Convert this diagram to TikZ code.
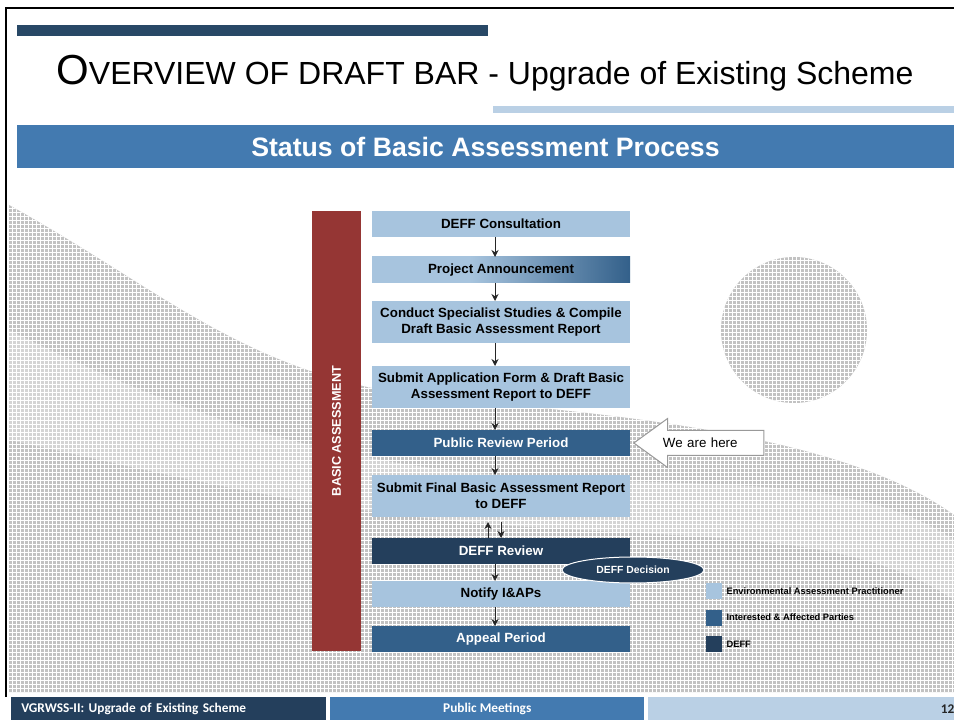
\documentclass[tikz,border=0pt]{standalone}
\usepackage{fontspec}
\setmainfont{Liberation Sans}
\newfontfamily\footfont{Carlito}
\usetikzlibrary{arrows.meta,positioning,shapes.geometric,shapes.arrows,patterns}

\definecolor{eapblue}{RGB}{167,196,222}
\definecolor{iapblue}{RGB}{51,96,138}
\definecolor{deffnavy}{RGB}{36,63,92}
\definecolor{bandblue}{RGB}{67,122,176}
\definecolor{topnavy}{RGB}{40,72,102}
\definecolor{paleblue}{RGB}{186,208,229}
\definecolor{barred}{RGB}{149,54,52}
\definecolor{texgray}{RGB}{194,194,194}

\pgfdeclarehorizontalshading{announceshade}{100bp}{color(0bp)=(eapblue); color(25bp)=(eapblue); color(44bp)=(eapblue); color(75bp)=(iapblue); color(100bp)=(iapblue)}

\begin{document}
\begin{tikzpicture}[
			x=0.75pt, y=-0.75pt,
			node distance=15pt,
			flowbox/.style={
				rectangle,
				minimum width=193.5pt,
				minimum height=19.5pt,
				inner sep=2pt,
				outer sep=0pt,
				align=center,
				font=\bfseries\fontsize{10}{12}\selectfont
			},
			eapbox/.style={flowbox, fill=eapblue, text=black},
			iapbox/.style={flowbox, fill=iapblue, text=white},
			deffbox/.style={flowbox, fill=deffnavy, text=white},
			fadebox/.style={flowbox, shade, shading=announceshade, text=black},
			tallbox/.style={minimum height=31.5pt},
			sidebar/.style={
				rectangle,
				rotate=90,
				fill=barred,
				text=white,
				minimum width=330pt,
				minimum height=36.75pt,
				inner sep=0pt,
				font=\bfseries\fontsize{9.5}{11}\selectfont
			},
			headband/.style={
				rectangle,
				fill=bandblue,
				text=white,
				minimum width=702.75pt,
				minimum height=32.25pt,
				inner sep=0pt,
				font=\bfseries\fontsize{20}{24}\selectfont
			},
			decisionnode/.style={
				ellipse,
				fill=deffnavy,
				draw=white,
				line width=0.75pt,
				text=white,
				minimum width=106.5pt,
				minimum height=19.5pt,
				inner sep=0pt,
				font=\bfseries\fontsize{7.8}{9}\selectfont
			},
			herearrow/.style={
				single arrow,
				shape border rotate=180,
				single arrow head extend=9pt,
				single arrow tip angle=72,
				draw=black!40,
				fill=white,
				line width=0.75pt,
				minimum height=97.5pt,
				text width=66.75pt,
				text height=7.5pt,
				text depth=0pt,
				align=left,
				inner xsep=3pt,
				inner ysep=5.25pt,
				font=\fontsize{10}{12}\selectfont
			},
			legbox/.style={rectangle, minimum size=12pt, inner sep=0pt},
			legtext/.style={inner sep=0pt, font=\bfseries\fontsize{7}{8}\selectfont},
			footbar/.style={
				rectangle,
				anchor=north west,
				minimum height=17.25pt,
				inner ysep=0pt,
				text=white,
				font=\footfont\bfseries\fontsize{10}{12}\selectfont
			},
			flowarrow/.style={
				-{Stealth[length=5.25pt,width=5.25pt]},
				line width=0.75pt,
				draw=black!85
			}
			]
			\useasboundingbox (0,0) rectangle (954,720);
			\fill[white] (0,0) rectangle (954,720);
			
			\fill[texgray, postaction={pattern=grid, pattern color=white}] (9,205) .. controls (180,300) and (260,390) .. (480,402) .. controls (650,418) and (850,440) .. (954,515) -- (954,692) -- (9,692) -- cycle;
			\fill[texgray, postaction={pattern=grid, pattern color=white}] (794,330) circle[radius=73];
			\fill[white, opacity=0.3] (9,330) .. controls (150,400) and (300,460) .. (500,475) .. controls (700,490) and (850,470) .. (954,540) -- (954,600) .. controls (850,530) and (700,540) .. (500,525) .. controls (300,510) and (150,470) .. (9,440) -- cycle;
			
			\draw[black, line width=1.5pt] (6,697) -- (6,8) -- (954,8);
			\fill[topnavy] (17,25) rectangle (488,36);
			\fill[paleblue] (493,106) rectangle (954,113);
			\node[anchor=base west, inner sep=0pt] (title) at (56,85) {\fontsize{31.5}{36}\selectfont O\fontsize{24}{28}\selectfont VERVIEW OF DRAFT BAR - Upgrade of Existing Scheme};
			\node[headband] (status) at (485.5,146.5) {Status of Basic Assessment Process};
			
			\node[sidebar] (bar) at (336.5,431) {BASIC ASSESSMENT};
			
			\node[eapbox] (consult) at (501,224) {DEFF Consultation};
			\node[fadebox, below=of consult] (announce) {Project Announcement};
			\node[eapbox, tallbox, below=13.5pt of announce] (studies) {Conduct Specialist Studies \& Compile\\Draft Basic Assessment Report};
			\node[eapbox, tallbox, below=17.25pt of studies] (submitapp) {Submit Application Form \& Draft Basic\\Assessment Report to DEFF};
			\node[iapbox, below=16.5pt of submitapp] (review) {Public Review Period};
			\node[eapbox, tallbox, below=14.25pt of review] (submitfinal) {Submit Final Basic Assessment Report\\to DEFF};
			\node[deffbox, below=15.75pt of submitfinal] (deffreview) {DEFF Review};
			\node[eapbox, below=12.75pt of deffreview] (notify) {Notify I\&APs};
			\node[iapbox, below=14.25pt of notify] (appeal) {Appeal Period};
			
			\draw[flowarrow] ([xshift=-4.5pt]consult.south) -- ([xshift=-4.5pt]announce.north);
			\draw[flowarrow] ([xshift=-4.5pt]announce.south) -- ([xshift=-4.5pt]studies.north);
			\draw[flowarrow] ([xshift=-4.5pt]studies.south) -- ([xshift=-4.5pt]submitapp.north);
			\draw[flowarrow] ([xshift=-4.5pt]submitapp.south) -- ([xshift=-4.5pt]review.north);
			\draw[flowarrow] ([xshift=-4.5pt]review.south) -- ([xshift=-4.5pt]submitfinal.north);
			\draw[flowarrow, shorten >=3.75pt] ([xshift=-9.75pt]deffreview.north) -- ([xshift=-9.75pt]submitfinal.south);
			\draw[flowarrow, shorten <=3.75pt] (submitfinal.south) -- (deffreview.north);
			\draw[flowarrow] ([xshift=-4.5pt]deffreview.south) -- ([xshift=-4.5pt]notify.north);
			\draw[flowarrow] ([xshift=-4.5pt]notify.south) -- ([xshift=-4.5pt]appeal.north);
			
			\node[decisionnode] (decision) at ([shift={(2.25pt,-4.5pt)}]deffreview.south east) {DEFF Decision};
			\node[herearrow, anchor=tip] (here) at ([xshift=2.25pt]review.east) {We are here};
			
			\node[legbox, fill=eapblue] (legeap) at (714,591) {};
			\node[legbox, fill=iapblue, below=7.5pt of legeap] (legiap) {};
			\node[legbox, fill=deffnavy, below=7.5pt of legiap] (legdeff) {};
			\node[legtext, right=3pt of legeap] (legeaptext) {Environmental Assessment Practitioner};
			\node[legtext, right=3pt of legiap] (legiaptext) {Interested \& Affected Parties};
			\node[legtext, right=3pt of legdeff] (legdefftext) {DEFF};
			
			\node[footbar, fill=deffnavy, minimum width=236.25pt, text width=221.25pt, inner xsep=7.5pt, align=left] (footleft) at (11,697) {VGRWSS-II: Upgrade of Existing Scheme};
			\node[footbar, fill=bandblue, minimum width=235.5pt] (footmid) at (330,697) {Public Meetings};
			\node[footbar, fill=paleblue, minimum width=229.5pt, text width=229.5pt, inner xsep=0pt, align=right, text=black!85] (footright) at (648,697) {12};
		\end{tikzpicture}
\end{document}
